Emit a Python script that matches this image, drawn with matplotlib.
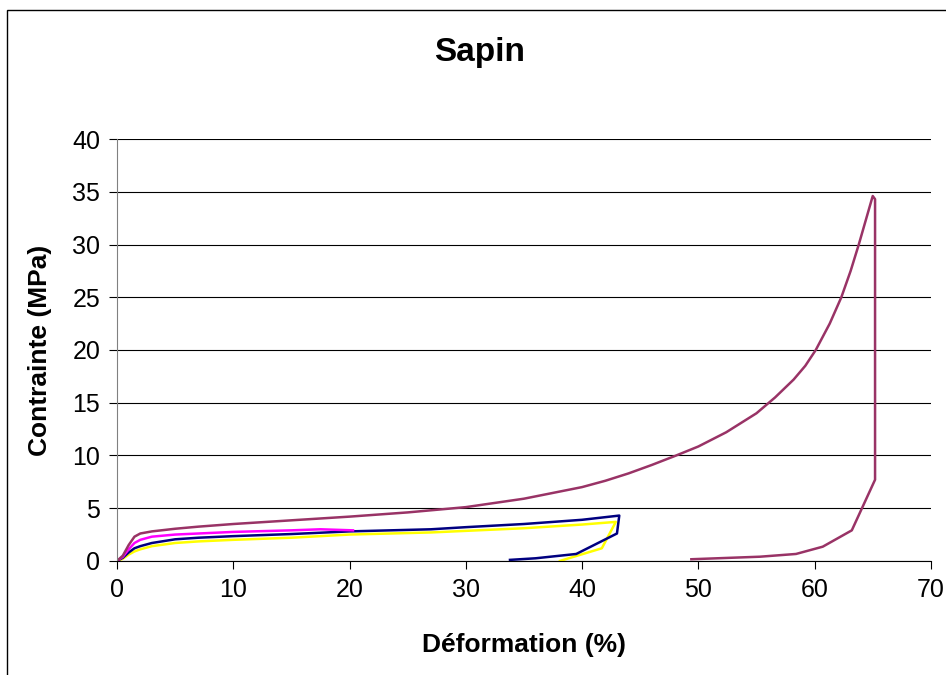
import matplotlib.pyplot as plt
from matplotlib.patches import Rectangle

plt.rcParams['font.family'] = ['Liberation Sans', 'DejaVu Sans']

# essai 4 (bordeaux) : ecrasement complet + decharge
x4 = [0, 0.5, 1.0, 1.5, 2, 3, 5, 7, 10, 15, 20, 25, 27, 30, 35, 40, 42, 44,
      46, 48.1, 50, 52.4, 55, 56.6, 58.2, 59.2, 60.1, 61.3, 62.3, 63.1, 63.8,
      64.4, 65.0, 65.2, 65.2, 63.2, 60.7, 58.4, 55.3, 49.4]
y4 = [0, 0.5, 1.5, 2.3, 2.6, 2.8, 3.05, 3.25, 3.5, 3.85, 4.2, 4.6, 4.8, 5.1,
      5.9, 7.0, 7.6, 8.3, 9.1, 10.0, 10.85, 12.2, 14.0, 15.5, 17.2, 18.5, 20.0,
      22.5, 25.0, 27.5, 30.0, 32.3, 34.6, 34.3, 7.7, 2.9, 1.35, 0.66, 0.4, 0.16]

# essai 1 (magenta)
x1 = [0, 0.5, 1.0, 1.5, 2, 3, 5, 7, 10, 15, 17.5, 20.3]
y1 = [0, 0.4, 1.1, 1.7, 2.0, 2.3, 2.5, 2.6, 2.75, 2.9, 3.0, 2.9]

# essai 2 (bleu marine)
x2 = [0, 0.5, 1.0, 1.5, 2, 3, 5, 7, 10, 15, 20, 27, 30, 35, 40, 43.2, 43.0,
      39.5, 36, 33.8]
y2 = [0, 0.3, 0.8, 1.2, 1.4, 1.7, 2.05, 2.2, 2.35, 2.55, 2.8, 3.0, 3.2, 3.5,
      3.9, 4.3, 2.6, 0.66, 0.25, 0.1]

# essai 3 (jaune)
x3 = [0, 0.5, 1.0, 1.5, 2, 3, 5, 7, 10, 15, 20, 27, 30, 35, 40, 42.9, 41.7, 38.1]
y3 = [0, 0.2, 0.6, 0.9, 1.1, 1.4, 1.7, 1.85, 2.0, 2.2, 2.5, 2.7, 2.85, 3.1,
      3.45, 3.7, 1.2, 0.0]

fig = plt.figure(figsize=(9.46, 6.75), dpi=100)
ax = fig.add_axes([0.1237, 0.169, 0.8603, 0.625])

# cadre du graphique
fig.patches.append(Rectangle((7 / 946, -0.1), 1.2, 1 - 10 / 675 + 0.1,
                             transform=fig.transFigure, fill=False,
                             edgecolor='black', linewidth=1))

ax.plot(x3, y3, color='#FFFF00', lw=1.8)
ax.plot(x2, y2, color='#000080', lw=1.8)
ax.plot(x1, y1, color='#FF00FF', lw=1.8)
ax.plot(x4, y4, color='#993366', lw=1.8)

ax.set_xlim(0, 70)
ax.set_ylim(0, 40)
ax.set_xticks(range(0, 71, 10))
ax.set_yticks(range(0, 41, 5))
ax.yaxis.grid(True, color='black', lw=0.8)
ax.set_axisbelow(True)
for s in ['top', 'right']:
    ax.spines[s].set_visible(False)
ax.spines['left'].set_color('#808080')
ax.tick_params(direction='out', length=6, labelsize=18, pad=6)

fig.text(480 / 946, 1 - 52 / 675, 'Sapin', fontsize=24, fontweight='bold',
         ha='center', va='center')
fig.text(524 / 946, 1 - 645 / 675, 'Déformation (%)', fontsize=19,
         fontweight='bold', ha='center', va='center')
fig.text(40 / 946, 1 - 350 / 675, 'Contrainte (MPa)', fontsize=19,
         fontweight='bold', ha='center', va='center', rotation=90)

fig.savefig('out.png', dpi=100)
